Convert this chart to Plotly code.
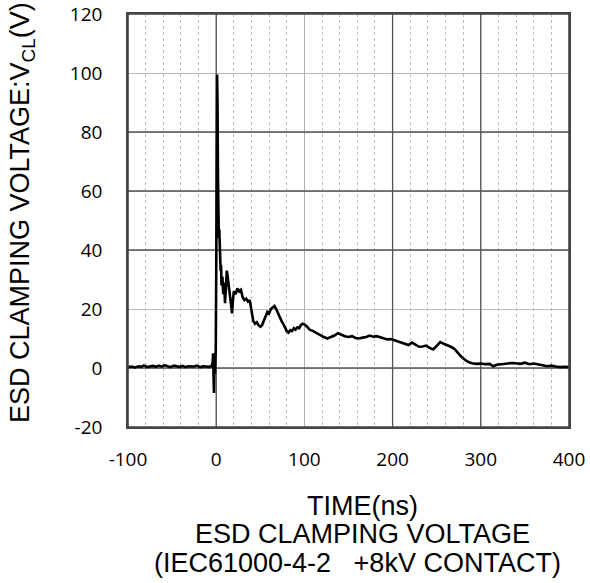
import plotly.graph_objects as go

# Time (ns) and clamping voltage (V)
time_ns = [-100, -96, -92, -88, -85, -82, -78, -75, -72, -68, -65, -62, -58, -55, -52,
           -48, -45, -42, -38, -35, -32, -28, -25, -22, -18, -15, -12, -8, -6, -5,
           -4, -3.5, -3, -2.5, -2, -1.5, -1, -0.5, 0, 0.5, 1, 1.5, 2, 2.5, 3, 3.5,
           4, 5, 5.5, 6, 7, 8, 9, 10, 11, 12, 13, 14, 15, 16, 17, 18, 19, 20, 22,
           24, 26, 28, 30, 32, 34, 36, 38, 40, 42, 44, 46, 48, 50, 52, 54, 56, 58,
           60, 62, 64, 66, 68, 70, 72, 74, 76, 78, 80, 82, 84, 86, 88, 90, 92, 94,
           96, 98, 100, 103, 106, 110, 114, 118, 122, 126, 130, 134, 138, 142, 146,
           150, 154, 158, 162, 166, 170, 174, 178, 182, 186, 190, 194, 198, 202,
           206, 210, 214, 218, 222, 226, 230, 234, 238, 242, 246, 250, 254, 258,
           262, 266, 270, 274, 278, 282, 286, 290, 295, 300, 305, 310, 314, 318,
           322, 326, 330, 335, 340, 345, 350, 355, 360, 365, 370, 375, 380, 385,
           390, 395, 400]
voltage_v = [0.3, 0.5, 0.2, 0.6, 0.4, 0.9, 0.3, 0.5, 0.7, 0.4, 0.8, 0.5, 0.9, 0.6, 0.3,
             0.8, 0.5, 0.4, 0.7, 0.3, 0.6, 0.4, 0.5, 0.8, 0.3, 0.6, 0.5, 0.4, 0.7, 0.5,
             2, 5, -3, -8.5, 4, -2, 3, 6, 30, 70, 99.5, 90, 65, 50, 44, 47,
             40, 33, 35, 28, 31, 25, 29, 22, 27, 33, 31, 28, 26, 22, 20, 18.5, 23, 26, 25,
             27, 26, 26.5, 24, 23, 23.5, 22.5, 23, 19, 16, 15, 15.5, 14.5, 14, 14.5, 16, 17.5, 19,
             18.5, 20, 20.5, 21, 20, 18.5, 17, 16, 15, 13.5, 12.5, 12, 12.8, 12.5, 13.5, 13, 13.8, 13.5,
             14.5, 15, 14.8, 14, 13, 12.5, 11.8, 11, 10.5, 10, 10.5, 11, 11.8, 11.2, 10.8,
             10.5, 10.8, 10.2, 10, 10.3, 10.5, 11, 10.6, 10.8, 10.5, 10, 9.7, 9.8, 9.4,
             9, 8.6, 8, 7.8, 8.6, 8, 7.2, 7.3, 7.6, 6.8, 6.3, 7.5, 8.8, 8.2,
             7.8, 7.2, 6.5, 5, 3.8, 2.8, 2, 1.6, 1.4, 1.5, 1.3, 1.4, 0.6, 1.1,
             1.3, 1.5, 1.6, 1.7, 1.6, 1.4, 1.8, 1.3, 1.5, 1.1, 0.9, 0.6, 0.8, 0.5,
             0.3, 0.4, 0.3]

x_ticks = [-100, 0, 100, 200, 300, 400]
x_tick_labels = ["-100", "0", "100", "200", "300", "400"]
y_ticks = [-20, 0, 20, 40, 60, 80, 100, 120]
y_tick_labels = ["-20", "0", "20", "40", "60", "80", "100", "120"]
x_range = [-100, 400]
y_range = [-20, 120]
dark_x_lines = [0, 200, 300]
dark_y_lines = [0, 40, 60, 80]

fig = go.Figure()

shapes = []
for xv in dark_x_lines:
    shapes.append(dict(type="line", xref="x", yref="y", x0=xv, x1=xv,
                       y0=y_range[0], y1=y_range[1],
                       line=dict(color="#555555", width=1.3), layer="between"))
for yv in dark_y_lines:
    shapes.append(dict(type="line", xref="x", yref="y", x0=x_range[0], x1=x_range[1],
                       y0=yv, y1=yv,
                       line=dict(color="#555555", width=1.3), layer="between"))
# plot frame
shapes.append(dict(type="rect", xref="x", yref="y", x0=x_range[0], x1=x_range[1],
                   y0=y_range[0], y1=y_range[1],
                   line=dict(color="#444444", width=1.6), fillcolor="rgba(0,0,0,0)",
                   layer="above"))

fig.add_trace(go.Scatter(x=time_ns, y=voltage_v, mode="lines",
                         line=dict(color="black", width=2.6), showlegend=False,
                         cliponaxis=False))

W_PLOT = 441
H_PLOT = 413

fig.update_layout(
    width=590, height=583,
    margin=dict(l=128, r=21, t=14, b=156),
    paper_bgcolor="white", plot_bgcolor="white",
    shapes=shapes,
    xaxis=dict(range=x_range, tickvals=x_ticks, ticktext=x_tick_labels, ticks="",
               automargin=False,
               showgrid=True, gridcolor="#b0b0b0", gridwidth=1,
               minor=dict(dtick=20, showgrid=True, gridcolor="#bdbdbd", griddash="dot", gridwidth=1),
               zeroline=False, showline=True, linecolor="#444444", linewidth=1.6, mirror=True,
               tickfont=dict(family="Open Sans", size=19, color="black"),
               ticklabelstandoff=14),
    yaxis=dict(range=y_range, tickvals=y_ticks, ticktext=y_tick_labels, ticks="",
               automargin=False,
               showgrid=True, gridcolor="#b8b8b8", gridwidth=1,
               zeroline=False, showline=True, linecolor="#444444", linewidth=1.6, mirror=True,
               tickfont=dict(family="Open Sans", size=19, color="black"),
               ticklabelstandoff=20),
    annotations=[
        dict(text="ESD CLAMPING VOLTAGE:V<sub>CL</sub>(V)", xref="paper", yref="paper",
             x=(22 - 128) / W_PLOT, y=(427 - 213) / H_PLOT, textangle=-90, showarrow=False,
             xanchor="center", yanchor="middle",
             font=dict(family="Liberation Sans", size=27, color="black")),
        dict(text="TIME(ns)", xref="paper", yref="paper", x=(362 - 128) / W_PLOT,
             y=-(506 - 427) / H_PLOT,
             showarrow=False, xanchor="center", yanchor="middle",
             font=dict(family="Liberation Sans", size=27, color="black")),
        dict(text="ESD CLAMPING VOLTAGE", xref="paper", yref="paper", x=(362 - 128) / W_PLOT,
             y=-(534 - 427) / H_PLOT, showarrow=False, xanchor="center", yanchor="middle",
             font=dict(family="Liberation Sans", size=27, color="black")),
        dict(text="(IEC61000-4-2\u00a0\u00a0\u00a0+8kV CONTACT)", xref="paper", yref="paper",
             x=(357 - 128) / W_PLOT, y=-(563 - 427) / H_PLOT, showarrow=False,
             xanchor="center", yanchor="middle",
             font=dict(family="Liberation Sans", size=27, color="black")),
    ],
)

fig.write_html("out.html", config={"displayModeBar": False},
               post_script="document.body.style.margin='0';document.body.style.overflow='hidden';")
